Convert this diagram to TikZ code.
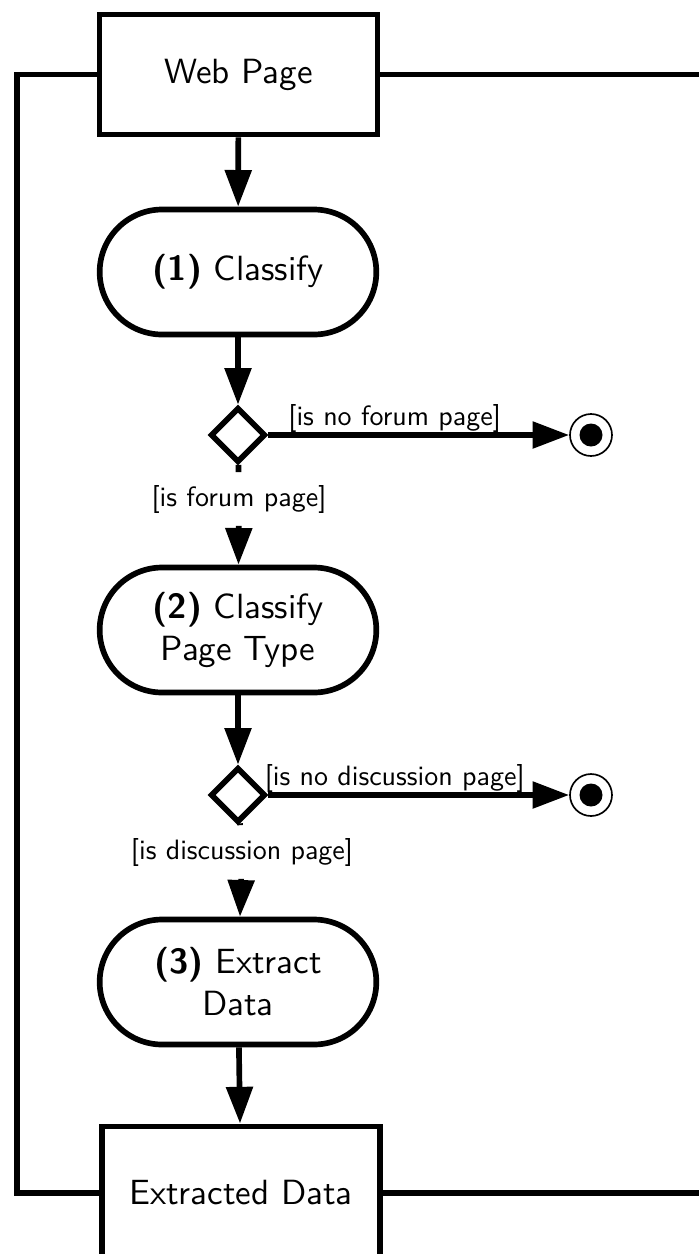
\documentclass[tikz,border=0pt]{standalone}
\usepackage{fontspec}
\setsansfont{lmsans10}[Extension=.otf, UprightFont=*-regular, BoldFont=*-bold]
\usetikzlibrary{arrows.meta,shapes.geometric}

\begin{document}
\begin{tikzpicture}[x=0.3pt,y=-0.3pt,
  font=\sffamily\fontsize{10.5}{12.6}\selectfont,
  line width=1.7pt,
  flow/.style={-{Triangle[length=11pt,width=7.8pt]}},
  databox/.style={draw, rectangle, minimum width=83.4pt, minimum height=36pt, inner sep=0pt},
  action/.style={draw, rectangle, rounded corners=18.75pt, minimum width=83pt,
                 minimum height=37.5pt, align=center, inner sep=0pt},
  decision/.style={draw, diamond, minimum width=16.5pt, minimum height=16.5pt, inner sep=0pt},
  guard/.style={font=\sffamily\fontsize{8.4}{10}\selectfont, inner sep=0pt},
  guardcut/.style={guard, inner xsep=1pt, inner ysep=3pt},
  final/.style={draw, circle, line width=0.5pt, minimum size=12.6pt, inner sep=0pt,
                path picture={\fill (path picture bounding box.center) circle (3.45pt);}},
]
\useasboundingbox (0,0) rectangle (699,1254);
\clip (0,0) rectangle (699,1254);

% activity nodes
\node[databox] (web) at (238.5,74.5) {Web Page};
\node[action] (s1) at (238,272) {\textbf{(1)} Classify};
\node[decision] (d1) at (238,435) {};
\node[final] (f1) at (591,435) {};
\node[guardcut] (g1) at (239,499) {[is forum page]};
\node[action] (s2) at (238,630) {\textbf{(2)} Classify\\Page Type};
\node[decision] (d2) at (238,795) {};
\node[final] (f2) at (591,795) {};
\node[guardcut] (g2) at (242,852) {[is discussion page]};
\node[action] (s3) at (238,982) {\textbf{(3)} Extract\\Data};
\node[databox, minimum height=40pt] (ext) at (241,1193) {Extracted Data};

% loose ends of the outer loop
\coordinate (lt) at (17,74.5);
\coordinate (lb) at (17,1193);
\coordinate (rt) at (699,74.5);
\coordinate (rb) at (699,1193);

% control flow
\draw[flow] (web) -- (s1);
\draw[flow] (s1) -- (d1);
\draw[flow] (d1) -- (f1) node[guard, pos=.42, above=0pt] {[is no forum page]};
\draw (d1) -- (g1);
\draw[flow] (g1) -- (s2);
\draw[flow] (s2) -- (d2);
\draw[flow] (d2) -- (f2) node[guard, pos=.42, above=0pt] {[is no discussion page]};
\draw (d2) -- (g2);
\draw[flow] (g2) -- (s3);
\draw[flow] (s3) -- (ext);

% outer loop lines
\draw (web.west) -- (lt) -- (lb) -- (ext.west);
\draw (web) -- (rt);
\draw (ext) -- (rb);
\end{tikzpicture}
\end{document}
